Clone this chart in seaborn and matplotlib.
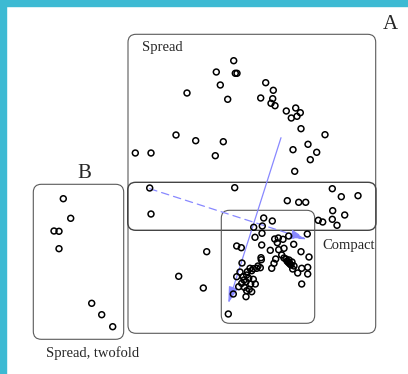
import matplotlib
matplotlib.use("Agg")
import matplotlib.pyplot as plt
from matplotlib.patches import FancyBboxPatch, Rectangle
import numpy as np
import pandas as pd
import seaborn as sns

# point positions (pixel space, y downwards)
spread_x = [233.7, 216.3, 235.3, 237.0, 220.3, 187.0, 227.7, 265.7, 273.3, 260.7,
            272.7, 271.0, 275.0, 286.3, 295.7, 300.3, 297.0, 291.3, 301.0, 325.0,
            176.0, 195.7, 223.3, 135.3, 151.0, 215.3, 293.0, 308.0, 316.7, 310.3,
            294.7]
spread_y = [60.7, 72.0, 73.3, 73.3, 85.0, 93.0, 99.3, 82.7, 90.3, 98.0,
            98.7, 103.3, 105.7, 111.0, 108.0, 112.7, 116.3, 118.0, 128.7, 134.7,
            135.0, 140.7, 141.7, 153.0, 153.0, 155.7, 149.7, 144.3, 152.3, 159.7,
            171.3]

band_x = [149.7, 234.7, 332.3, 341.3, 358.0, 287.3, 298.7, 305.7, 151.0, 332.7,
          344.7, 318.3, 322.7, 332.3, 337.0]
band_y = [188.0, 187.7, 188.7, 196.7, 195.7, 200.7, 202.3, 202.3, 214.0, 210.7,
          215.0, 220.3, 222.0, 219.3, 225.3]

compact_x = [263.7, 272.3, 253.7, 262.3, 262.0, 255.0, 288.7, 307.3, 274.7, 278.3,
             277.3, 283.0, 236.7, 241.3, 261.7, 270.3, 278.7, 284.0, 293.7, 301.0,
             309.0, 206.7, 281.7, 275.7, 261.0, 261.3,
             284.0, 286.0, 287.0, 288.0, 289.0, 290.0, 291.0, 289.0, 292.0, 294.0,
             242.0, 274.0, 271.7, 260.3, 301.7, 307.7, 297.7, 292.7, 307.7, 301.7,
             178.7, 203.3,
             250.0, 253.3, 256.7, 247.3, 251.7, 246.7, 243.3, 236.7, 248.7, 253.3,
             246.0, 241.7, 250.7, 255.3, 238.7, 244.3, 249.3, 246.7, 251.7, 246.0,
             233.3, 228.3, 258.0, 240.0, 244.0]
compact_y = [218.0, 221.0, 227.3, 226.0, 233.3, 237.3, 236.0, 234.0, 239.0, 238.0,
             242.7, 239.3, 246.0, 247.7, 245.0, 250.3, 249.7, 248.3, 244.3, 251.7,
             257.0, 251.7, 255.0, 259.0, 257.7, 259.7,
             258.0, 259.0, 261.0, 262.0, 263.0, 264.0, 265.0, 260.0, 262.0, 266.0,
             263.0, 263.3, 268.3, 267.7, 268.3, 267.3, 273.0, 269.0, 274.0, 284.0,
             276.3, 288.0,
             268.3, 268.7, 268.3, 271.7, 270.7, 275.0, 276.7, 276.7, 278.3, 279.3,
             281.7, 283.3, 284.0, 284.0, 286.7, 287.3, 289.3, 290.7, 291.7, 296.7,
             294.0, 314.0, 266.0, 272.0, 280.0]

twofold_x = [63.3, 70.7, 54.0, 59.0, 59.0, 91.7, 101.7, 112.7]
twofold_y = [198.7, 218.3, 231.0, 231.3, 248.7, 303.3, 314.7, 326.7]

df = pd.DataFrame({
    "x": spread_x + band_x + compact_x + twofold_x,
    "y": spread_y + band_y + compact_y + twofold_y,
})

W, H = 408, 374
sns.set_style("white")
plt.rcParams["font.family"] = ["Liberation Serif", "DejaVu Serif"]

fig = plt.figure(figsize=(W / 100, H / 100), dpi=100)
ax = fig.add_axes([0, 0, 1, 1])

# cyan frame on the left and top edges
frame = "#3dbad3"
ax.add_patch(Rectangle((0, 0), 6, H, color=frame, zorder=0))
ax.add_patch(Rectangle((0, 0), W, 6, color=frame, zorder=0))


def box(x0, y0, x1, y1, color="#5a5a5a", lw=0.8):
    ax.add_patch(FancyBboxPatch((x0, y0), x1 - x0, y1 - y0,
                                boxstyle="round,pad=0,rounding_size=8",
                                fill=False, ec=color, lw=lw, zorder=1))


box(128, 34.3, 375.7, 333.3)
box(127.7, 182.3, 376, 230.3, color="#444444", lw=1.0)
box(221.3, 210.3, 314.7, 323.3)
box(33.3, 184.3, 123.7, 339.3)

sns.scatterplot(data=df, x="x", y="y", ax=ax, s=18, marker="o",
                facecolor="none", edgecolor="black", linewidth=1.1, zorder=3)
ax.set_xlim(0, W)
ax.set_ylim(H, 0)
ax.axis("off")

arrow_col = "#8888ff"
head = "-|>,head_length=1.0,head_width=0.28"
ax.annotate("", xy=(228.3, 303.3), xytext=(281, 137.7),
            arrowprops=dict(arrowstyle=head, color=arrow_col, lw=0.9,
                            shrinkA=0, shrinkB=0), zorder=2)
ax.annotate("", xy=(306.7, 239.3), xytext=(149.7, 188.7),
            arrowprops=dict(arrowstyle=head, color=arrow_col, lw=0.9,
                            linestyle=(0, (6, 4)), shrinkA=0, shrinkB=0),
            zorder=2)

ax.text(390.7, 24, "A", fontsize=15, ha="center", va="center")
ax.text(84, 173.3, "B", fontsize=15, ha="center", va="center")
ax.text(142.3, 47.3, "Spread", fontsize=10.5, ha="left", va="center")
ax.text(322.3, 245, "Compact", fontsize=10.5, ha="left", va="center")
ax.text(45.7, 353.3, "Spread, twofold", fontsize=10.5, ha="left", va="center")

fig.savefig("out.png", dpi=100)
